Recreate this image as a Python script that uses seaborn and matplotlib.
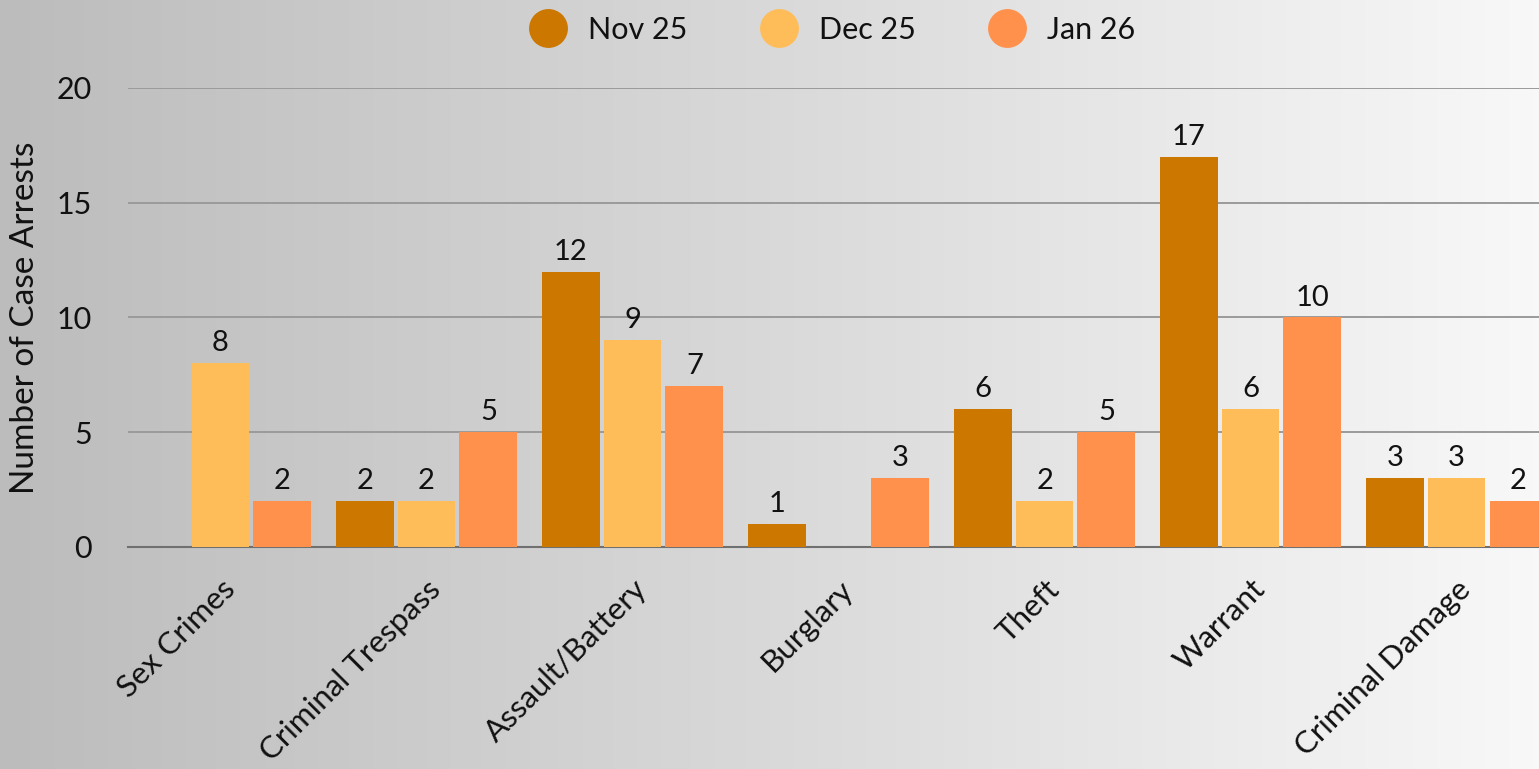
import numpy as np
import pandas as pd
import matplotlib
matplotlib.use("Agg")
import matplotlib.pyplot as plt
from matplotlib.colors import LinearSegmentedColormap
from matplotlib.lines import Line2D
import seaborn as sns

# ── Data ──────────────────────────────────────────────────────────────────────
categories = ["Sex Crimes", "Criminal Trespass", "Assault/Battery", "Burglary",
              "Theft", "Warrant", "Criminal Damage"]
months = ["Nov 25", "Dec 25", "Jan 26"]
nov_25 = [None, 2, 12, 1, 6, 17, 3]
dec_25 = [8, 2, 9, None, 2, 6, 3]
jan_26 = [2, 5, 7, 3, 5, 10, 2]
month_colors = ["#CC7700", "#FFBD59", "#FF914D"]

rows = []
for month, vals in zip(months, [nov_25, dec_25, jan_26]):
    for cat, v in zip(categories, vals):
        if v is not None:
            rows.append({"Offense": cat, "Month": month, "Arrests": v})
df = pd.DataFrame(rows)

# ── Style ─────────────────────────────────────────────────────────────────────
sns.set_theme(style="white")
plt.rcParams["font.family"] = ["Lato", "DejaVu Sans"]
plt.rcParams["text.color"] = "#111111"

fig = plt.figure(figsize=(15.39, 7.69), dpi=100)

# gradient background, grey on the left fading to near white on the right
bg = fig.add_axes([0, 0, 1, 1], zorder=-10)
grad_cmap = LinearSegmentedColormap.from_list("bg", ["#BCBCBC", "#D9D9D9", "#F8F8F8"])
bg.imshow(np.linspace(0, 1, 512)[None, :], cmap=grad_cmap, aspect="auto",
          extent=[0, 1, 0, 1])
bg.axis("off")

ax = fig.add_axes([0.0832, 0.2887, 0.9168, 0.5969])
ax.set_facecolor("none")

sns.barplot(
    data=df, x="Offense", y="Arrests", hue="Month",
    order=categories, hue_order=months, palette=month_colors,
    width=0.9, gap=0.065, saturation=1, linewidth=0, legend=False,
    ax=ax, zorder=3,
)

for container in ax.containers:
    ax.bar_label(container, fmt="%d", fontsize=21, padding=5, color="#111111")

ax.set_ylim(0, 20)
ax.set_xlim(-0.449, 6.40)
ax.set_yticks([0, 5, 10, 15, 20])
ax.yaxis.grid(True, color="#9A9A9A", linewidth=1.4, zorder=0)
ax.set_axisbelow(True)
for side in ["top", "right", "left"]:
    ax.spines[side].set_visible(False)
ax.spines["bottom"].set_color("#707070")
ax.spines["bottom"].set_linewidth(1.5)

ax.tick_params(axis="y", labelsize=22, length=0, pad=26, labelcolor="#111111")
ax.tick_params(axis="x", labelsize=22.5, length=0, pad=20, labelcolor="#111111")
plt.setp(ax.get_xticklabels(), rotation=45, ha="right", rotation_mode="anchor")
ax.set_xlabel("")
ax.set_ylabel("Number of Case Arrests", fontsize=24, labelpad=12, color="#111111")

handles = [Line2D([0], [0], marker="o", linestyle="", markersize=28,
                  markerfacecolor=c, markeredgewidth=0, label=m)
           for m, c in zip(months, month_colors)]
fig.legend(handles=handles, loc="upper center", bbox_to_anchor=(0.537, 1.015),
           ncol=3, frameon=False, fontsize=22, handletextpad=0.3,
           columnspacing=2.0)

fig.savefig("out.png", dpi=100)
